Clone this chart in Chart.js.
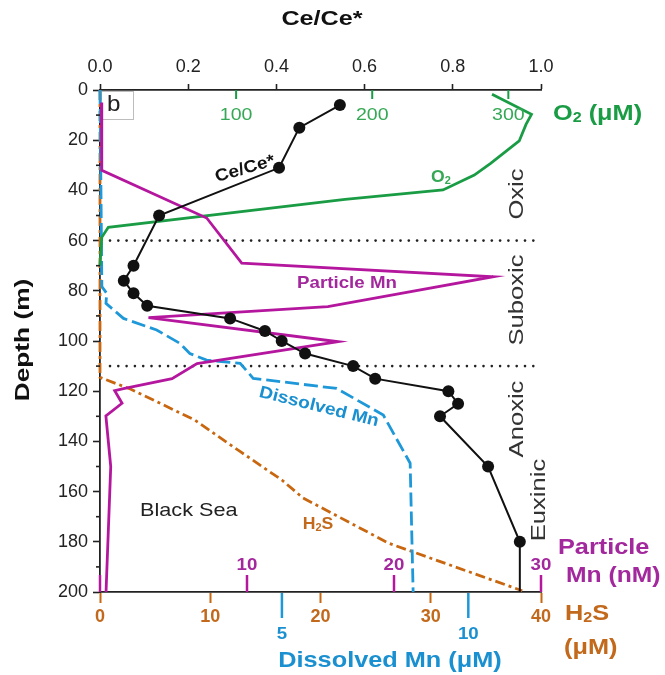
<!DOCTYPE html>
<html>
<head>
<meta charset="utf-8">
<script src="https://cdn.jsdelivr.net/npm/chart.js@4.4.1/dist/chart.umd.min.js"></script>
<style>
  html, body { margin: 0; padding: 0; background: #ffffff; }
  #wrap { width: 665px; height: 675px; }
</style>
</head>
<body>
<div id="wrap"><canvas id="c" width="665" height="675"></canvas></div>
<script>
// ---------------- DATA ----------------
// Ce/Ce* profile
const ceDepth = [6, 15, 31, 50, 70, 76, 81, 86, 91, 96, 100, 105, 110, 115, 120, 125, 130, 150, 180, 200];
const ceValue = [0.544, 0.452, 0.406, 0.134, 0.076, 0.054, 0.076, 0.107, 0.295, 0.374, 0.412, 0.465, 0.574, 0.624, 0.790, 0.812, 0.771, 0.880, 0.952, 0.952];
// O2 (uM)
const o2Depth = [1.7, 9.7, 13.7, 20.3, 29.2, 33.9, 39.8, 43.6, 54.7, 58.7, 70];
const o2Value = [288, 317, 313, 308, 287, 275, 252, 180, 6.1, 1.3, 0];
// Particle Mn (nM)
const pmnDepth = [5, 32, 51, 69, 74.4, 81.3, 86.3, 90.7, 100.3, 109, 115, 119, 119.8, 124.8, 129.8, 150, 200];
const pmnValue = [0.1, 0.12, 7.26, 9.64, 26.75, 20.2, 15.5, 3.3, 16.2, 6.6, 4.9, 1.6, 1.0, 1.5, 0.4, 0.73, 0.41];
// Dissolved Mn (uM)
const dmnDepth = [0, 78.3, 81, 85, 91, 95.6, 101, 105, 107.6, 108.9, 114.9, 118.9, 129.5, 148.7, 200];
const dmnValue = [0.12, 0.17, 0.30, 0.28, 0.75, 1.64, 2.27, 2.53, 2.98, 3.88, 4.23, 6.47, 7.72, 8.44, 8.52];
// H2S (uM)
const h2sDepth = [0, 114.5, 119.2, 131.5, 144, 155.4, 162.5, 180.6, 199.5];
const h2sValue = [0, 0, 2.8, 8.6, 12.7, 16.5, 18.4, 26.2, 38.3];

// axis ticks / labels
const ceTicks = [0, 0.2, 0.4, 0.6, 0.8, 1.0];
const depthTicks = [0, 20, 40, 60, 80, 100, 120, 140, 160, 180, 200];
const depthMinor = [10, 30, 50, 70, 90, 110, 130, 150, 170, 190];
const o2Ticks = [100, 200, 300];
const pmnTicks = [0, 10, 20, 30];
const pmnLabels = ['', '10', '20', '30'];
const h2sTicks = [0, 10, 20, 30, 40];
const dmnTicks = [5, 10];
const zoneDepths = [60, 110];

// ---------------- STYLE ----------------
const FONT = '"Liberation Sans", Arial, Helvetica, sans-serif';
const C_GREEN = '#1a9c45', C_GREEN_T = '#35a855';
const C_MAG = '#b4179e', C_MAG_T = '#a3289d';
const C_BLUE = '#1e98d8', C_BLUE_T = '#1a90d0';
const C_BROWN = '#c8670f', C_BROWN_T = '#c2691c';
const C_AX = '#222222';

Chart.defaults.font.family = FONT;

const pts = (xs, ds) => xs.map((v, i) => ({ x: v, y: ds[i] }));

function txt(ctx, parts, x, y, o) {
  const segs = typeof parts === 'string' ? [[parts, false]] : parts;
  const size = o.size || 18;
  const f = (sub) => `${o.bold ? 'bold ' : ''}${sub ? Math.round(size * 0.62) : size}px ${FONT}`;
  ctx.save();
  ctx.translate(x, y);
  if (o.rot) ctx.rotate(o.rot * Math.PI / 180);
  ctx.scale(o.sx || 1.12, 1);
  let w = 0;
  segs.forEach(s => { ctx.font = f(s[1]); w += ctx.measureText(s[0]).width; });
  let sx = o.align === 'left' ? 0 : (o.align === 'right' ? -w : -w / 2);
  ctx.textBaseline = 'middle';
  ctx.textAlign = 'left';
  ctx.fillStyle = o.color || C_AX;
  segs.forEach(s => {
    ctx.font = f(s[1]);
    ctx.fillText(s[0], sx, s[1] ? size * 0.2 : 0);
    sx += ctx.measureText(s[0]).width;
  });
  ctx.restore();
}

const customDraw = {
  id: 'customDraw',
  beforeDatasetsDraw(chart) {
    const ctx = chart.ctx, a = chart.chartArea, ys = chart.scales.y;
    // dotted zone boundaries
    ctx.save();
    ctx.fillStyle = '#222';
    zoneDepths.forEach(d => {
      const py = ys.getPixelForValue(d);
      for (let px = a.left + 10; px <= a.right; px += 8.3) {
        ctx.beginPath(); ctx.arc(px, py, 1.3, 0, Math.PI * 2); ctx.fill();
      }
    });
    // "b" box
    ctx.strokeStyle = '#bdbdbd'; ctx.lineWidth = 1;
    ctx.strokeRect(a.left + 1.5, a.top + 1.5, 32, 28);
    ctx.restore();
    txt(ctx, 'b', a.left + 7, a.top + 15, { size: 22, color: '#222', align: 'left', sx: 1.1 });
  },
  afterDatasetsDraw(chart) {
    const ctx = chart.ctx, a = chart.chartArea, s = chart.scales;
    ctx.save();
    // minor depth ticks
    ctx.strokeStyle = C_AX; ctx.lineWidth = 1.6;
    depthMinor.forEach(d => {
      const py = s.y.getPixelForValue(d);
      ctx.beginPath(); ctx.moveTo(a.left - 4, py); ctx.lineTo(a.left, py); ctx.stroke();
    });
    // O2 ticks inside top
    ctx.strokeStyle = C_GREEN; ctx.lineWidth = 2;
    o2Ticks.forEach(v => {
      const px = s.xO2.getPixelForValue(v);
      ctx.beginPath(); ctx.moveTo(px, a.top); ctx.lineTo(px, a.top + 9); ctx.stroke();
    });
    // Particle Mn ticks inside bottom
    ctx.strokeStyle = C_MAG; ctx.lineWidth = 2.5;
    pmnTicks.forEach(v => {
      const px = s.xPMn.getPixelForValue(v);
      ctx.beginPath(); ctx.moveTo(px, a.bottom); ctx.lineTo(px, a.bottom - 17); ctx.stroke();
    });
    // Dissolved Mn ticks below
    ctx.strokeStyle = C_BLUE; ctx.lineWidth = 2.5;
    dmnTicks.forEach(v => {
      const px = s.xDMn.getPixelForValue(v);
      ctx.beginPath(); ctx.moveTo(px, a.bottom + 1); ctx.lineTo(px, a.bottom + 26); ctx.stroke();
    });
    ctx.restore();

    o2Ticks.forEach(v => txt(ctx, String(v), s.xO2.getPixelForValue(v), a.top + 25, { size: 17, color: C_GREEN_T, sx: 1.15 }));
    pmnTicks.forEach((v, i) => { if (pmnLabels[i]) txt(ctx, pmnLabels[i], s.xPMn.getPixelForValue(v), a.bottom - 27, { size: 17, bold: true, color: C_MAG_T, sx: 1.1 }); });
    dmnTicks.forEach(v => txt(ctx, String(v), s.xDMn.getPixelForValue(v), a.bottom + 42, { size: 17, bold: true, color: C_BLUE_T, sx: 1.1 }));

    // axis titles
    txt(ctx, 'Ce/Ce*', 322, 19, { size: 21, bold: true, color: '#111', sx: 1.2 });
    txt(ctx, 'Depth (m)', 23, 340, { size: 21, bold: true, color: '#111', rot: -90, sx: 1.25 });
    txt(ctx, [['O', false], ['2', true], [' (\u03bcM)', false]], 553, 114, { size: 22, bold: true, color: C_GREEN, align: 'left', sx: 1.15 });
    txt(ctx, 'Particle', 558, 548, { size: 22, bold: true, color: C_MAG_T, align: 'left', sx: 1.15 });
    txt(ctx, 'Mn (nM)', 566, 576, { size: 22, bold: true, color: C_MAG_T, align: 'left', sx: 1.12 });
    txt(ctx, [['H', false], ['2', true], ['S', false]], 565, 614, { size: 22, bold: true, color: C_BROWN_T, align: 'left', sx: 1.15 });
    txt(ctx, '(\u03bcM)', 564, 648, { size: 22, bold: true, color: C_BROWN_T, align: 'left', sx: 1.15 });
    txt(ctx, 'Dissolved Mn (\u03bcM)', 390, 661, { size: 22, bold: true, color: C_BLUE_T, sx: 1.15 });

    // zone labels
    txt(ctx, 'Oxic', 517, 194, { size: 20, color: '#333', rot: -90, sx: 1.28 });
    txt(ctx, 'Suboxic', 517, 300, { size: 20, color: '#333', rot: -90, sx: 1.28 });
    txt(ctx, 'Anoxic', 517, 419, { size: 20, color: '#333', rot: -90, sx: 1.28 });
    txt(ctx, 'Euxinic', 539, 500, { size: 20, color: '#333', rot: -90, sx: 1.28 });

    // in-plot labels
    txt(ctx, 'Black Sea', 140, 511, { size: 19, color: '#222', align: 'left', sx: 1.14 });
    txt(ctx, 'Ce/Ce*', 245, 169, { size: 17, bold: true, color: '#111', rot: -16, sx: 1.12 });
    txt(ctx, [['O', false], ['2', true]], 441, 178, { size: 16, bold: true, color: C_GREEN_T, sx: 1.1 });
    txt(ctx, 'Particle Mn', 347, 283, { size: 17, bold: true, color: C_MAG_T, sx: 1.1 });
    txt(ctx, 'Dissolved Mn', 319, 407, { size: 17, bold: true, color: C_BLUE_T, rot: 14, sx: 1.12 });
    txt(ctx, [['H', false], ['2', true], ['S', false]], 318, 525, { size: 16, bold: true, color: C_BROWN_T, sx: 1.1 });
  }
};

const ctx = document.getElementById('c').getContext('2d');
new Chart(ctx, {
  type: 'scatter',
  data: {
    datasets: [
      {
        label: 'Ce/Ce*', xAxisID: 'xCe', yAxisID: 'y',
        data: pts(ceValue, ceDepth), showLine: true,
        borderColor: '#111', borderWidth: 2,
        pointRadius: ceDepth.map((d, i) => i === ceDepth.length - 1 ? 0 : 6),
        pointBackgroundColor: '#111', pointBorderWidth: 0, clip: false
      },
      {
        label: 'Particle Mn', xAxisID: 'xPMn', yAxisID: 'y',
        data: pts(pmnValue, pmnDepth), showLine: true,
        borderColor: C_MAG, borderWidth: 2.8, pointRadius: 0, clip: false
      },
      {
        label: 'O2', xAxisID: 'xO2', yAxisID: 'y',
        data: pts(o2Value, o2Depth), showLine: true,
        borderColor: C_GREEN, borderWidth: 2.8, pointRadius: 0, clip: false
      },
      {
        label: 'Dissolved Mn', xAxisID: 'xDMn', yAxisID: 'y',
        data: pts(dmnValue, dmnDepth), showLine: true,
        borderColor: C_BLUE, borderWidth: 2.8, borderDash: [14, 5], pointRadius: 0, clip: false
      },
      {
        label: 'H2S', xAxisID: 'xH2S', yAxisID: 'y',
        data: pts(h2sValue, h2sDepth), showLine: true,
        borderColor: C_BROWN, borderWidth: 2.8, borderDash: [10, 4, 3, 4], pointRadius: 0, clip: false
      }
    ]
  },
  options: {
    responsive: false,
    animation: false,
    layout: { padding: { left: 0, right: 124, top: 0, bottom: 0 } },
    plugins: { legend: { display: false }, tooltip: { enabled: false } },
    scales: {
      y: {
        type: 'linear', position: 'left', reverse: true, min: 0, max: 200,
        afterFit: (sc) => { sc.width = 100; },
        afterBuildTicks: (sc) => { sc.ticks = depthTicks.map(v => ({ value: v })); },
        ticks: { color: '#222', font: { size: 18 }, padding: 5 },
        grid: { drawOnChartArea: false, tickLength: 7, tickColor: C_AX, tickWidth: 1.6 },
        border: { color: C_AX, width: 1.8 }
      },
      xCe: {
        type: 'linear', position: 'top', min: 0, max: 1,
        afterFit: (sc) => { sc.height = 90; },
        afterBuildTicks: (sc) => { sc.ticks = ceTicks.map(v => ({ value: v })); },
        ticks: { color: '#222', font: { size: 18 }, padding: 6, maxRotation: 0, callback: (v) => Number(v).toFixed(1) },
        grid: { drawOnChartArea: false, tickLength: 6, tickColor: C_AX, tickWidth: 1.6 },
        border: { color: C_AX, width: 1.8 }
      },
      xO2: { type: 'linear', display: false, min: 0, max: 324 },
      xPMn: { type: 'linear', display: false, min: 0, max: 30 },
      xDMn: { type: 'linear', display: false, min: 0.12, max: 11.95 },
      xH2S: {
        type: 'linear', position: 'bottom', min: 0, max: 40,
        afterFit: (sc) => { sc.height = 83; },
        afterBuildTicks: (sc) => { sc.ticks = h2sTicks.map(v => ({ value: v })); },
        ticks: { color: C_BROWN_T, font: { size: 18, weight: 'bold' }, padding: 3, maxRotation: 0 },
        grid: { drawOnChartArea: false, tickLength: 11, tickColor: C_BROWN, tickWidth: 2 },
        border: { color: C_AX, width: 1.8 }
      }
    }
  },
  plugins: [customDraw]
});
</script>
</body>
</html>
